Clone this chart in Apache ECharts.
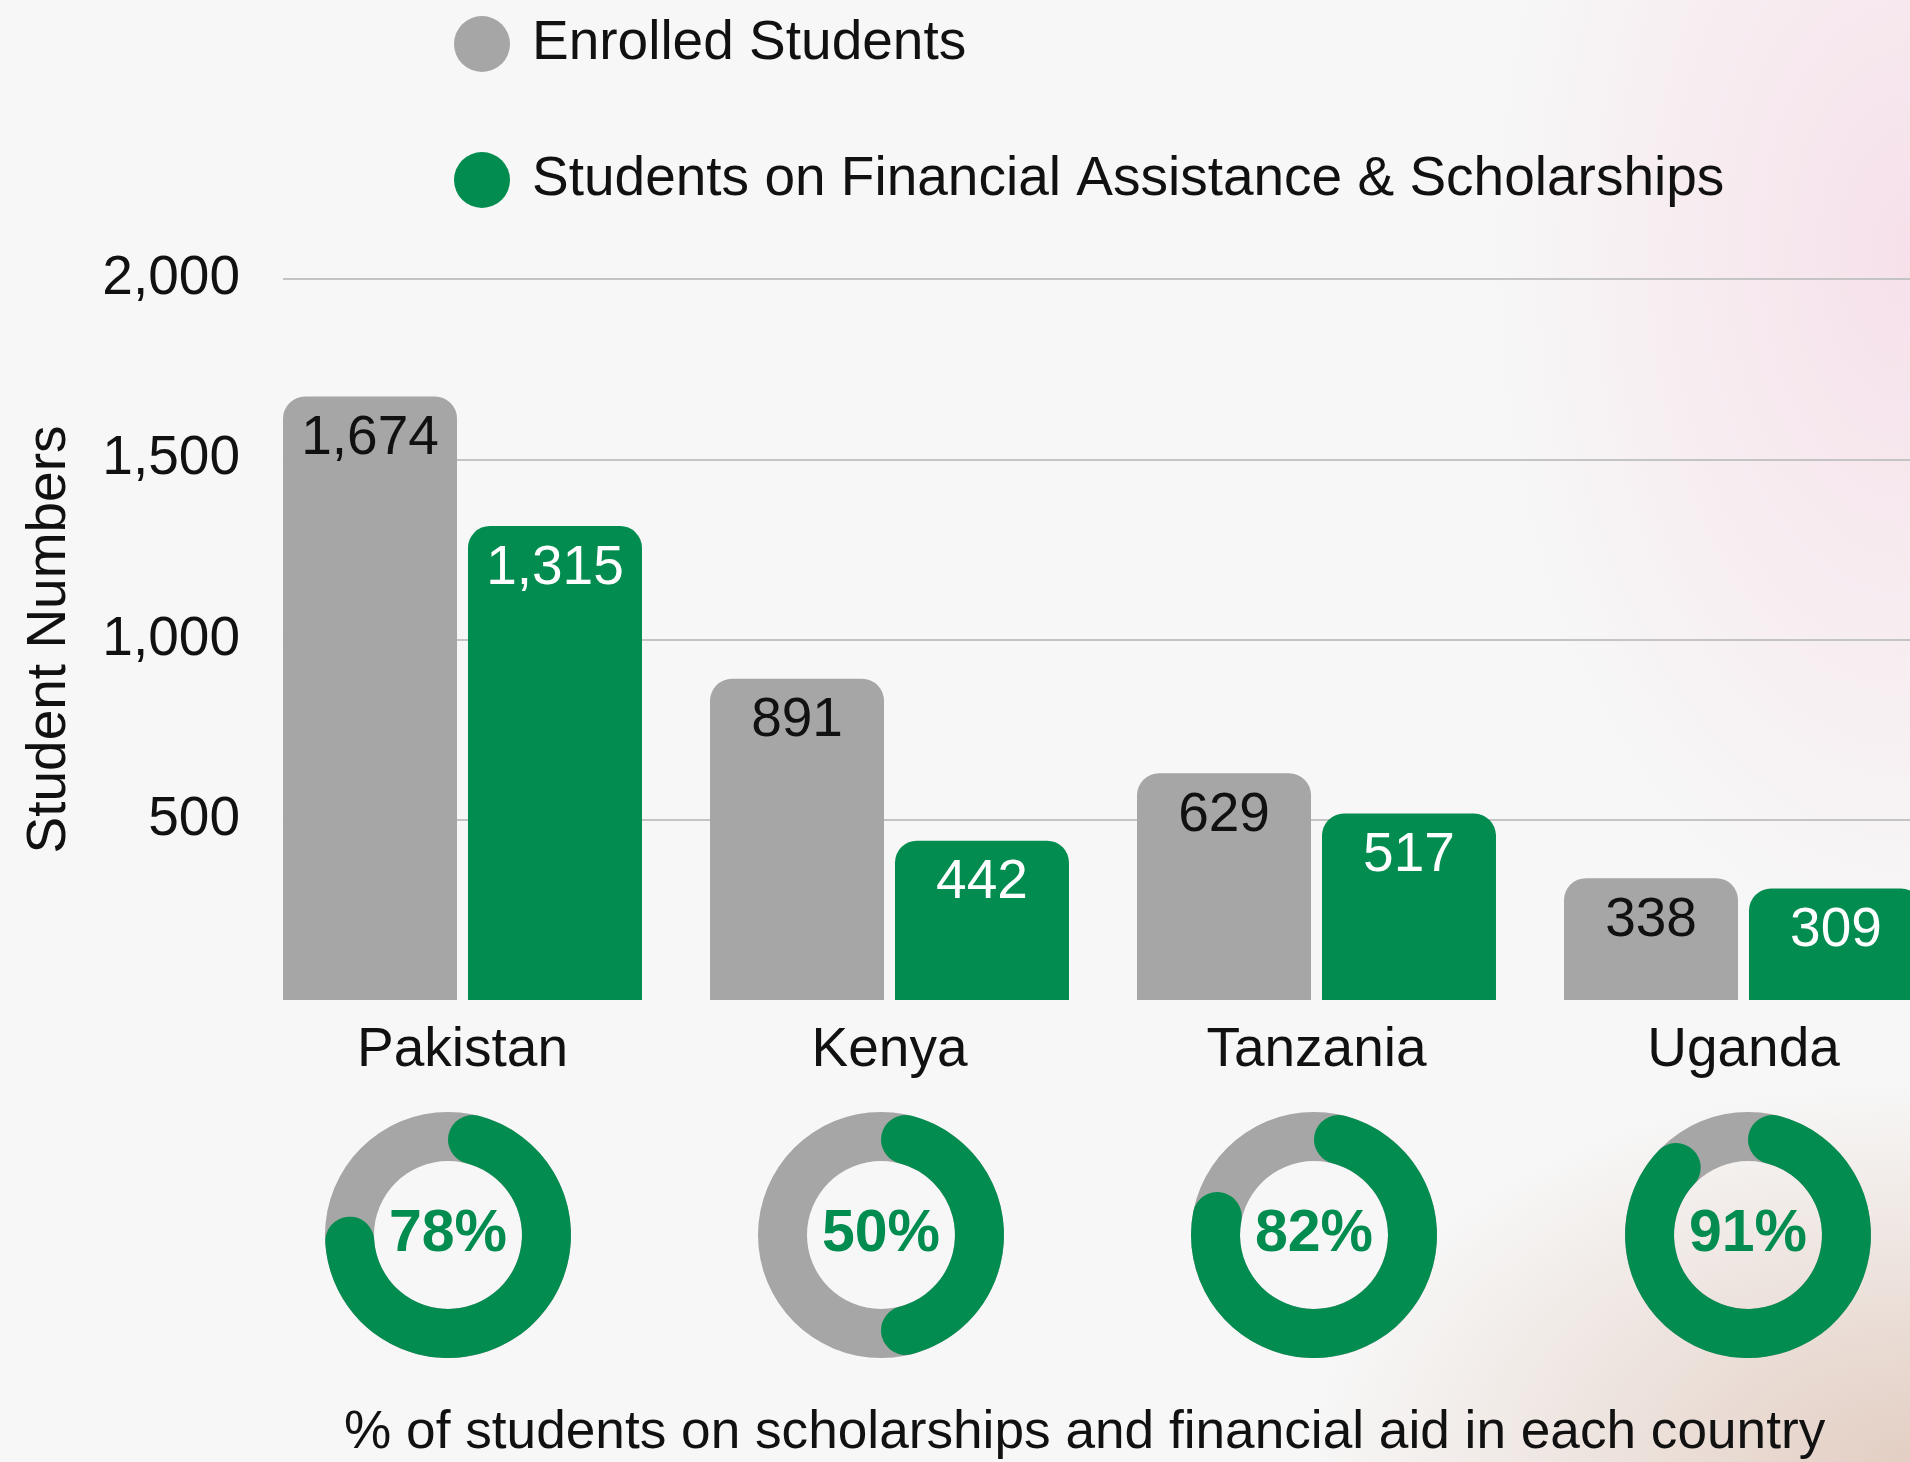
<!DOCTYPE html>
<html>
<head>
<meta charset="utf-8">
<script src="https://cdn.jsdelivr.net/npm/echarts@6/dist/echarts.min.js"></script>
<style>
  html, body { margin: 0; padding: 0; }
  body {
    width: 1910px; height: 1462px; overflow: hidden;
    background:
      radial-gradient(ellipse 420px 700px at 1910px 250px, rgba(246, 215, 228, 0.7), rgba(246, 215, 228, 0) 100%),
      radial-gradient(ellipse 600px 380px at 1910px 1462px, rgba(222, 196, 182, 0.8), rgba(222, 196, 182, 0) 100%),
      #f7f7f7;
  }
  #chart { width: 1910px; height: 1462px; }
</style>
</head>
<body>
<div id="chart"></div>
<script>
// 数据
var countries = ['Pakistan', 'Kenya', 'Tanzania', 'Uganda'];
var enrolled = [1674, 891, 629, 338];
var aided = [1315, 442, 517, 309];
var aidPercent = [78, 50, 82, 91];
var yTicks = [0, 500, 1000, 1500, 2000];

var GREEN = '#028c50';
var GREY = '#a6a6a6';
var FONT = '"Liberation Sans", Arial, sans-serif';
var FS = 55;

function fmt(v) {
  return Number(v).toLocaleString('en-US');
}

function drawChart() {
  var myChart = echarts.init(document.getElementById('chart'), null, {renderer: 'canvas'});

  // 甜甜圈图的中心位置
  var donutX = [448, 881, 1314, 1748];
  var donutY = 1235;

  var series = [
    {
      name: 'Enrolled Students',
      type: 'bar',
      barWidth: 174,
      barGap: '6.3%',
      itemStyle: {color: GREY, borderRadius: [22, 22, 0, 0]},
      label: {
        show: true,
        position: 'insideTop',
        distance: 15,
        color: '#111',
        fontSize: FS,
        fontFamily: FONT,
        formatter: function (p) { return fmt(p.value); }
      },
      emphasis: {disabled: true},
      data: enrolled
    },
    {
      name: 'Students on Financial Assistance & Scholarships',
      type: 'bar',
      barWidth: 174,
      itemStyle: {color: GREEN, borderRadius: [22, 22, 0, 0]},
      label: {
        show: true,
        position: 'insideTop',
        distance: 15,
        color: '#fff',
        fontSize: FS,
        fontFamily: FONT,
        formatter: function (p) { return fmt(p.value); }
      },
      emphasis: {disabled: true},
      data: aided
    }
  ];

  aidPercent.forEach(function (pct, i) {
    // 灰色底圈
    series.push({
      type: 'pie',
      silent: true,
      center: [donutX[i], donutY],
      radius: [74, 123],
      label: {show: false},
      labelLine: {show: false},
      itemStyle: {color: GREY},
      data: [{value: 100, name: countries[i] + ' total'}],
      z: 1
    });
    // 绿色进度
    series.push({
      type: 'pie',
      silent: true,
      center: [donutX[i], donutY],
      radius: [74, 123],
      startAngle: 90,
      clockwise: true,
      labelLine: {show: false},
      data: [
        {
          value: pct,
          name: countries[i] + ' aid',
          itemStyle: {color: GREEN, borderRadius: 25},
          label: {
            show: true,
            position: 'center',
            formatter: pct + '%',
            color: GREEN,
            fontSize: 59,
            fontWeight: 'bold',
            fontFamily: FONT
          }
        },
        {
          value: 100 - pct,
          name: countries[i] + ' rest',
          itemStyle: {color: 'rgba(0,0,0,0)'},
          label: {show: false}
        }
      ],
      z: 2
    });
  });

  var option = {
    animation: false,
    backgroundColor: 'transparent',
    textStyle: {fontFamily: FONT},
    title: {
      text: '% of students on scholarships and financial aid in each country',
      left: 339,
      top: 1402,
      textStyle: {color: '#111', fontSize: 53.2, fontWeight: 'normal', fontFamily: FONT}
    },
    legend: {
      orient: 'vertical',
      left: 449,
      top: 11,
      itemWidth: 56,
      itemHeight: 56,
      itemGap: 80,
      icon: 'circle',
      selectedMode: false,
      textStyle: {color: '#111', fontSize: FS, fontFamily: FONT, padding: [0, 0, 0, 17]},
      data: ['Enrolled Students', 'Students on Financial Assistance & Scholarships']
    },
    grid: {
      left: 249,
      top: 279,
      width: 1708,
      height: 721,
      outerBoundsMode: 'none',
      containLabel: false
    },
    xAxis: {
      type: 'category',
      data: countries,
      axisLine: {show: false},
      axisTick: {show: false},
      axisLabel: {color: '#111', fontSize: FS, fontFamily: FONT, margin: 23}
    },
    yAxis: {
      type: 'value',
      min: yTicks[0],
      max: yTicks[yTicks.length - 1],
      interval: yTicks[1] - yTicks[0],
      name: 'Student Numbers',
      nameLocation: 'middle',
      nameGap: 172,
      nameTextStyle: {color: '#111', fontSize: FS, fontFamily: FONT},
      axisLine: {show: false},
      axisTick: {show: false},
      axisLabel: {
        color: '#111',
        fontSize: FS,
        fontFamily: FONT,
        margin: 9,
        showMinLabel: false,
        formatter: function (v) { return fmt(v); }
      },
      splitLine: {show: true, showMinLine: false, lineStyle: {color: '#c4c4c4', width: 2}}
    },
    graphic: [
      {
        // 遮住网格线起点前的一小段
        type: 'rect',
        left: 243,
        top: 260,
        shape: {width: 40, height: 740},
        style: {fill: '#f7f7f7'},
        z: 10,
        silent: true
      }
    ],
    series: series
  };

  myChart.clear();
  myChart.setOption(option);
  window.addEventListener('resize', function () {
    myChart.resize();
  });
}

drawChart();
</script>
</body>
</html>
